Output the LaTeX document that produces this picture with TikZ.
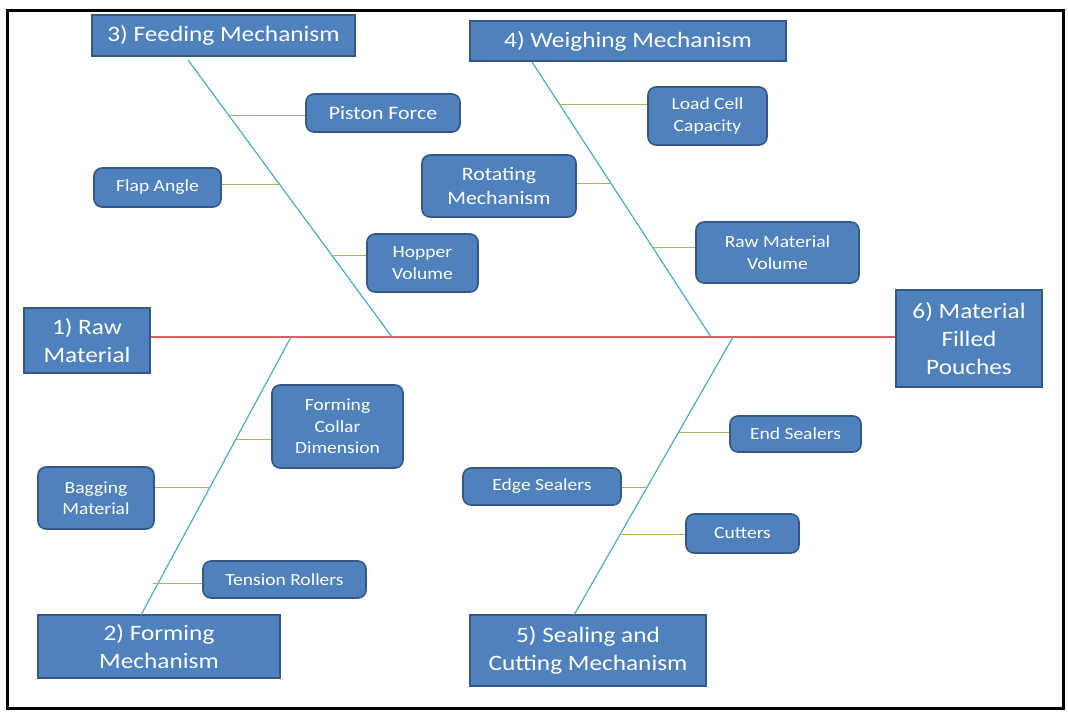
\documentclass[tikz,border=0pt]{standalone}
\usepackage{fontspec}
\setmainfont{Carlito}[FakeStretch=1.15]
\usetikzlibrary{calc}
\definecolor{boxblue}{RGB}{79,129,189}
\definecolor{boxline}{RGB}{52,88,132}
\definecolor{bonecyan}{RGB}{75,172,198}
\definecolor{twiggreen}{RGB}{155,187,89}
\definecolor{spinered}{RGB}{214,96,93}
\begin{document}
\begin{tikzpicture}[x=1pt, y=-1pt,
  headbox/.style={draw=boxline, line width=1.6pt, fill=boxblue, text=white,
    align=center, inner sep=0pt, font=\fontsize{22}{28}\selectfont},
  causebox/.style={headbox, rounded corners=8pt, font=\fontsize{17}{21.5}\selectfont},
  bone/.style={draw=bonecyan, line width=1.2pt},
  twig/.style={draw=twiggreen, line width=1pt},
  spine/.style={draw=spinered, line width=1.5pt}]
  \useasboundingbox (0,0) rectangle (1068,713);
  % outer frame
  \draw[line width=3pt] (7,10) rectangle (1063,708);
  % heads
  \node[headbox, minimum width=263pt, minimum height=41pt] (feed) at (223.5,35.5) {3) Feeding Mechanism};
  \node[headbox, minimum width=316pt, minimum height=40pt] (weigh) at (628,41) {4) Weighing Mechanism};
  \node[headbox, minimum width=126pt, minimum height=65pt] (raw) at (87,340.5) {1) Raw\\Material};
  \node[headbox, minimum width=146pt, minimum height=97pt] (pouch) at (969,338.5) {6) Material\\Filled\\Pouches};
  \node[headbox, minimum width=242pt, minimum height=63pt] (form) at (159,646.5) {2) Forming\\Mechanism};
  \node[headbox, minimum width=236pt, minimum height=71pt] (seal) at (588,650.5) {5) Sealing and\\Cutting Mechanism};
  % causes
  \node[causebox, minimum width=154pt, minimum height=38pt, font=\fontsize{19}{24}\selectfont] (piston) at (383,113) {Piston Force};
  \node[causebox, minimum width=127pt, minimum height=39pt] (flap) at (157.5,187.5) {Flap Angle};
  \node[causebox, minimum width=111pt, minimum height=58pt] (hopper) at (422.5,263) {Hopper\\Volume};
  \node[causebox, minimum width=154pt, minimum height=62pt, font=\fontsize{19}{24}\selectfont] (rotate) at (499,186) {Rotating\\Mechanism};
  \node[causebox, minimum width=119pt, minimum height=58pt] (loadcell) at (707.5,116) {Load Cell\\Capacity};
  \node[causebox, minimum width=163pt, minimum height=61pt] (rawvol) at (777.5,252.5) {Raw Material\\Volume};
  \node[causebox, minimum width=131pt, minimum height=83pt] (collar) at (337.5,426.5) {Forming\\Collar\\Dimension};
  \node[causebox, minimum width=116pt, minimum height=62pt] (bagging) at (96,498) {Bagging\\Material};
  \node[causebox, minimum width=163pt, minimum height=37pt] (tension) at (284.5,579.5) {Tension Rollers};
  \node[causebox, minimum width=158pt, minimum height=37pt] (edge) at (542,486.5) {Edge Sealers};
  \node[causebox, minimum width=131pt, minimum height=36pt] (endseal) at (795.5,434) {End Sealers};
  \node[causebox, minimum width=113pt, minimum height=39pt] (cutters) at (742.5,533.5) {Cutters};
  % bone ends
  \coordinate (feedtop) at (188,60);
  \coordinate (feedfoot) at (392,337);
  \coordinate (weightop) at (532,62);
  \coordinate (weighfoot) at (711,337);
  \coordinate (formfoot) at (291,337);
  \coordinate (formbot) at (141,615);
  \coordinate (sealfoot) at (733,337);
  \coordinate (sealbot) at (574,615);
  % spine
  \draw[spine] (raw.east |- 0,337) -- (pouch.west |- 0,337);
  % bones
  \draw[bone] (feedtop) -- (feedfoot);
  \draw[bone] (weightop) -- (weighfoot);
  \draw[bone] (formfoot) -- (formbot);
  \draw[bone] (sealfoot) -- (sealbot);
  % points on the bones
  \coordinate (t1) at ($(feedtop)!0.199!(feedfoot)$);
  \coordinate (t2) at ($(feedtop)!0.448!(feedfoot)$);
  \coordinate (t3) at ($(feedtop)!0.704!(feedfoot)$);
  \coordinate (t4) at ($(weightop)!0.156!(weighfoot)$);
  \coordinate (t5) at ($(weightop)!0.44!(weighfoot)$);
  \coordinate (t6) at ($(weightop)!0.673!(weighfoot)$);
  \coordinate (t7) at ($(formfoot)!0.367!(formbot)$);
  \coordinate (t8) at ($(formfoot)!0.540!(formbot)$);
  \coordinate (t9) at ($(formfoot)!0.885!(formbot)$);
  \coordinate (t10) at ($(sealfoot)!0.342!(sealbot)$);
  \coordinate (t11) at ($(sealfoot)!0.540!(sealbot)$);
  \coordinate (t12) at ($(sealfoot)!0.712!(sealbot)$);
  % twigs
  \draw[twig] (t1) -- (t1 -| piston.west);
  \draw[twig] (t2) -- (t2 -| flap.east);
  \draw[twig] (t3) -- (t3 -| hopper.west);
  \draw[twig] (t4) -- (t4 -| loadcell.west);
  \draw[twig] (t5) -- (t5 -| rotate.east);
  \draw[twig] (t6) -- (t6 -| rawvol.west);
  \draw[twig] (t7) -- (t7 -| collar.west);
  \draw[twig] (t8) -- (t8 -| bagging.east);
  \draw[twig] ([xshift=-5pt]t9) -- (t9 -| tension.west);
  \draw[twig] (t10) -- (t10 -| endseal.west);
  \draw[twig] (t11) -- (t11 -| edge.east);
  \draw[twig] (t12) -- (t12 -| cutters.west);
\end{tikzpicture}
\end{document}
